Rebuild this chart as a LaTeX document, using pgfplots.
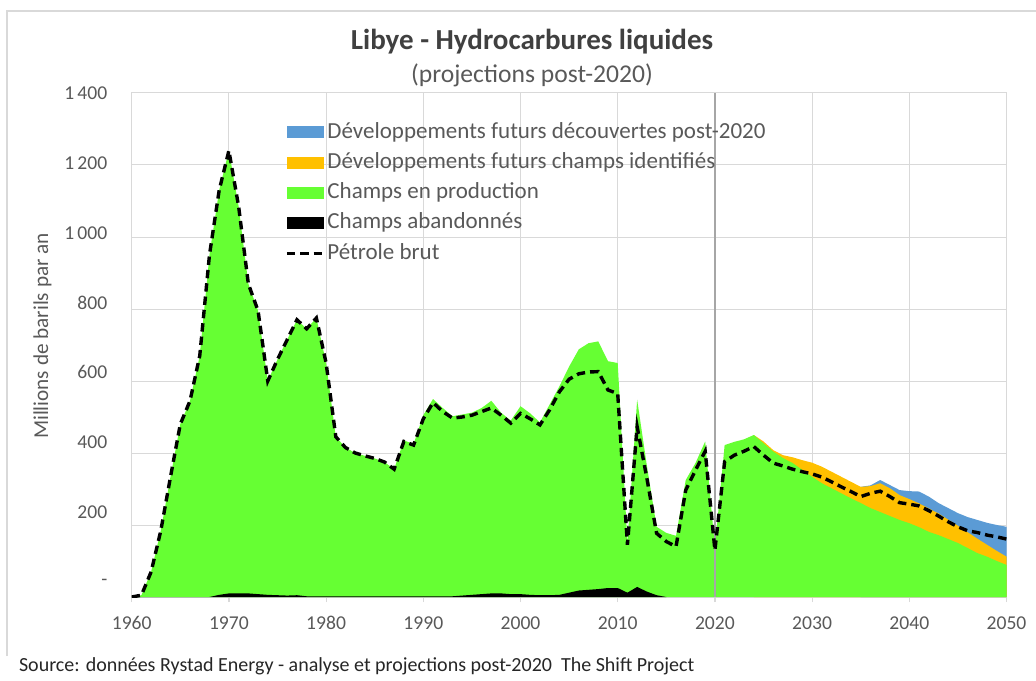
\documentclass[border=0pt]{standalone}
\usepackage{fontspec}
\setmainfont{Carlito}
\usepackage{pgfplots}
\pgfplotsset{compat=1.18}
\definecolor{cblue}{HTML}{5B9BD5}
\definecolor{corange}{HTML}{FFC000}
\definecolor{cgreen}{HTML}{66FF33}
\definecolor{txt}{HTML}{595959}
\definecolor{ttl}{HTML}{404040}
\definecolor{gridc}{HTML}{D9D9D9}
\definecolor{vline}{HTML}{A6A6A6}
\pgfplotsset{
  swatch/.style={draw=none, mark=none, legend image code/.code={\fill[##1] (0pt,-3pt) rectangle (18.5pt,3pt);}},
  dline/.style={mark=none, legend image code/.code={\draw[##1] (0pt,0pt) -- (18.5pt,0pt);}},
}
\begin{document}
\begin{tikzpicture}
\useasboundingbox (0,0) rectangle (518pt,340pt);
\draw[gridc, line width=0.6pt] (3.5pt,12pt) -- (3.5pt,334.5pt) -- (518pt,334.5pt);
\node[font=\bfseries\fontsize{14.5}{16}\selectfont, text=ttl] at (266pt,319pt) {Libye - Hydrocarbures liquides};
\node[font=\fontsize{12.8}{14}\selectfont, text=txt] at (266pt,302.5pt) {(projections post-2020)};
\node[font=\fontsize{10}{12}\selectfont, text=black!85, anchor=west] at (6pt,7pt) {Source: données Rystad Energy - analyse et projections post-2020\ \ The Shift Project};
\node[font=\fontsize{10.6}{12}\selectfont, text=txt, rotate=90] at (21.25pt,172pt) {Millions de barils par an};
\begin{axis}[
  at={(65.85pt,41.5pt)}, anchor=south west,
  scale only axis, width=437.4pt, height=252pt,
  xmin=1960, xmax=2050, ymin=0, ymax=1400,
  xtick={1960,1970,...,2050},
  ytick={0,200,...,1400},
  yticklabels={-,200,400,600,800,1\,000,1\,200,1\,400},
  /pgf/number format/assume math mode=true,
  xticklabel={\pgfmathprintnumber[1000 sep={}]{\tick}},
  grid=major,
  grid style={gridc, line width=0.5pt},
  axis line style={gridc, line width=0.5pt},
  xtick pos=bottom, ytick pos=left,
  tick align=outside,
  major tick length=2.5pt,
  xtick style={gridc, line width=0.6pt},
  ytick style={draw=none},
  ticklabel style={font=\fontsize{9.8}{11}\selectfont, text=txt},
  xticklabel style={anchor=north, inner sep=0pt, yshift=-7pt},
  yticklabel style={anchor=east, inner sep=0pt, xshift=-9.5pt, yshift={(7-\ticknum)*1.07pt}},
  legend style={at={(0.168,0.95)}, anchor=north west, draw=none, fill=none,
    font=\fontsize{11.5}{13}\selectfont, text=txt, row sep=5.3pt,
    nodes={text height=7.8pt, text depth=2pt, inner sep=0pt},
    legend cell align=left},
]
\addlegendimage{swatch, fill=cblue}
\addlegendentry{\hspace{1pt}Développements futurs découvertes post-2020}
\addlegendimage{swatch, fill=corange}
\addlegendentry{\hspace{1pt}Développements futurs champs identifiés}
\addlegendimage{swatch, fill=cgreen}
\addlegendentry{\hspace{1pt}Champs en production}
\addlegendimage{swatch, fill=black}
\addlegendentry{\hspace{1pt}Champs abandonnés}
\addlegendimage{dline, black, line width=1.7pt, dash pattern=on 4.2pt off 2.5pt}
\addlegendentry{\hspace{1pt}Pétrole brut}

% cumulative top of discoveries (blue)
\addplot[fill=cblue, draw=none, forget plot] coordinates {
(2035,306) (2036,310) (2037,325) (2038,311) (2039,297) (2040,294) (2041,293) (2042,279)
(2043,261) (2044,247) (2045,233) (2046,222) (2047,214) (2048,206) (2049,200) (2050,195)
} \closedcycle;
% cumulative top of identified fields (orange)
\addplot[fill=corange, draw=none, forget plot] coordinates {
(2024,450) (2025,432) (2026,408) (2027,394) (2028,388) (2029,380) (2030,373) (2031,362)
(2032,348) (2033,334) (2034,320) (2035,306) (2036,308) (2037,316) (2038,302) (2039,283)
(2040,272) (2041,260) (2042,246) (2043,232) (2044,215) (2045,198) (2046,180) (2047,162)
(2048,145) (2049,128) (2050,112)
} \closedcycle;
% top of fields in production (green)
\addplot[fill=cgreen, draw=none, forget plot] coordinates {
(1960,0) (1961,5) (1962,70) (1963,185) (1964,335) (1965,480) (1966,545) (1967,670)
(1968,950) (1969,1130) (1970,1240) (1971,1085) (1972,870) (1973,795) (1974,600)
(1975,660) (1976,715) (1977,770) (1978,745) (1979,775) (1980,650) (1981,445)
(1982,415) (1983,400) (1984,392) (1985,385) (1986,375) (1987,355) (1988,435)
(1989,425) (1990,505) (1991,550) (1992,525) (1993,502) (1994,507) (1995,512)
(1996,525) (1997,545) (1998,512) (1999,490) (2000,530) (2001,510) (2002,485)
(2003,535) (2004,585) (2005,640) (2006,688) (2007,705) (2008,710) (2009,655)
(2010,650) (2011,150) (2012,548) (2013,365) (2014,195) (2015,178) (2016,170)
(2017,325) (2018,372) (2019,432) (2020,138) (2021,422) (2022,431) (2023,438)
(2024,450) (2025,427) (2026,404) (2027,386) (2028,372) (2029,353) (2030,334)
(2031,316) (2032,302) (2033,288) (2034,274) (2035,261) (2036,247) (2037,236)
(2038,225) (2039,214) (2040,205) (2041,194) (2042,181) (2043,172) (2044,161)
(2045,150) (2046,136) (2047,122) (2048,112) (2049,100) (2050,89)
} \closedcycle;
% abandoned fields (black)
\addplot[fill=black, draw=none, forget plot] coordinates {
(1960,0) (1968,0) (1969,6) (1970,10) (1971,10) (1972,10) (1973,8) (1974,6) (1975,5)
(1976,4) (1977,5) (1978,2) (1979,2) (1980,2) (1993,2) (1994,4) (1995,6) (1996,8)
(1997,10) (1998,10) (1999,8) (2000,8) (2001,6) (2002,5) (2003,5) (2004,6) (2005,12)
(2006,18) (2007,20) (2008,22) (2009,25) (2010,25) (2011,12) (2012,28) (2013,15)
(2014,5) (2015,0)
} \closedcycle;
\draw[vline, line width=1.2pt] (axis cs:2020,0) -- (axis cs:2020,1400);
% crude oil
\addplot[black, line width=1.7pt, dash pattern=on 4.2pt off 2.5pt, forget plot] coordinates {
(1960,0) (1961,5) (1962,70) (1963,185) (1964,335) (1965,480) (1966,545) (1967,670)
(1968,950) (1969,1130) (1970,1240) (1971,1085) (1972,870) (1973,795) (1974,600)
(1975,660) (1976,715) (1977,770) (1978,745) (1979,775) (1980,650) (1981,445)
(1982,415) (1983,400) (1984,392) (1985,385) (1986,375) (1987,355) (1988,432)
(1989,422) (1990,495) (1991,540) (1992,515) (1993,497) (1994,500) (1995,505)
(1996,515) (1997,525) (1998,505) (1999,483) (2000,510) (2001,495) (2002,478)
(2003,520) (2004,570) (2005,605) (2006,620) (2007,625) (2008,626) (2009,575)
(2010,565) (2011,145) (2012,473) (2013,330) (2014,177) (2015,154) (2016,140)
(2017,297) (2018,352) (2019,405) (2020,130) (2021,376) (2022,394) (2023,405)
(2024,418) (2025,394) (2026,372) (2027,364) (2028,355) (2029,348) (2030,342)
(2031,333) (2032,320) (2033,306) (2034,293) (2035,279) (2036,288) (2037,294)
(2038,279) (2039,262) (2040,258) (2041,253) (2042,240) (2043,225) (2044,209)
(2045,195) (2046,184) (2047,179) (2048,172) (2049,167) (2050,161)
};
\end{axis}
\end{tikzpicture}
\end{document}
